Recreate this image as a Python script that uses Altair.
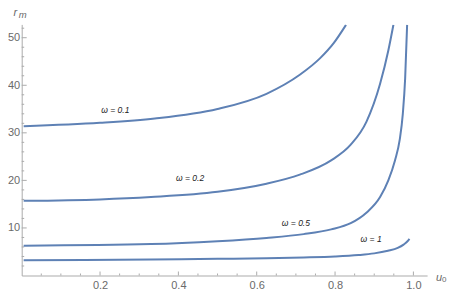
import altair as alt
import pandas as pd

# ---- data ----
u_w01 = [0.005, 0.2, 0.34, 0.5, 0.625, 0.71, 0.762, 0.796, 0.828]
r_w01 = [31.4, 32.1, 33.0, 35.0, 38.2, 42.2, 45.7, 48.8, 52.7]

u_w02 = [0.005, 0.2, 0.33, 0.5, 0.625, 0.71, 0.79, 0.84, 0.88, 0.915, 0.936, 0.949]
r_w02 = [15.7, 16.0, 16.5, 17.6, 19.3, 21.2, 24.2, 27.5, 32.3, 40.3, 47.3, 52.7]

u_w05 = [0.005, 0.33, 0.5, 0.625, 0.72, 0.79, 0.84, 0.88, 0.915, 0.936, 0.953, 0.965, 0.973, 0.979, 0.984]
r_w05 = [6.28, 6.6, 7.2, 7.9, 8.7, 9.7, 11.0, 13.2, 16.5, 20.0, 24.2, 28.5, 34.0, 41.5, 52.7]

u_w1 = [0.005, 0.33, 0.5, 0.625, 0.72, 0.8, 0.86, 0.9, 0.935, 0.96, 0.975, 0.985, 0.99]
r_w1 = [3.2, 3.35, 3.5, 3.65, 3.8, 4.0, 4.3, 4.65, 5.2, 5.8, 6.5, 7.2, 7.7]

label_text = ["ω = 0.1", "ω = 0.2", "ω = 0.5", "ω = 1"]
label_u = [0.239, 0.430, 0.700, 0.892]
label_r = [34.7, 20.5, 11.0, 7.65]

x_major = [0.2, 0.4, 0.6, 0.8, 1.0]
x_minor = [0.05, 0.1, 0.15, 0.25, 0.3, 0.35, 0.45, 0.5, 0.55, 0.65, 0.7, 0.75, 0.85, 0.9, 0.95]
y_major = [10, 20, 30, 40, 50]
y_minor = [2, 4, 6, 8, 12, 14, 16, 18, 22, 24, 26, 28, 32, 34, 36, 38, 42, 44, 46, 48, 52]

rows = []
for name, us, rs in [("0.1", u_w01, r_w01), ("0.2", u_w02, r_w02),
                     ("0.5", u_w05, r_w05), ("1", u_w1, r_w1)]:
    for u, r in zip(us, rs):
        rows.append({"omega": name, "u0": u, "rm": r})
df = pd.DataFrame(rows)

W, H = 405.4, 251.1
AX = "#ababab"
LAB = "#6a6a6a"
FONT = "Liberation Sans"

xs = alt.Scale(domain=[0, 1.035], nice=False, zero=False)
ys = alt.Scale(domain=[0, 52.8], nice=False, zero=False)

lines = alt.Chart(df).mark_line(
    color="#5E81B5", strokeWidth=2, interpolate="monotone", clip=True
).encode(
    x=alt.X("u0:Q", scale=xs, axis=alt.Axis(
        values=x_major, format=".1f", title=None, grid=False, ticks=False, tickSize=0,
        domainColor=AX, labelColor=LAB, labelFontSize=11, labelFont=FONT, labelPadding=3.5)),
    y=alt.Y("rm:Q", scale=ys, axis=alt.Axis(
        values=y_major, format="d", title=None, grid=False, ticks=False, tickSize=0,
        domainColor=AX, labelColor=LAB, labelFontSize=11, labelFont=FONT, labelPadding=2)),
    detail="omega:N",
)

ymaj = alt.Chart(pd.DataFrame({"v": y_major})).mark_rule(color=AX, strokeWidth=1).encode(
    y=alt.Y("v:Q", scale=ys), x=alt.value(0), x2=alt.value(5))
ymin = alt.Chart(pd.DataFrame({"v": y_minor})).mark_rule(color=AX, strokeWidth=1).encode(
    y=alt.Y("v:Q", scale=ys), x=alt.value(0), x2=alt.value(2.5))
xmaj = alt.Chart(pd.DataFrame({"v": x_major})).mark_rule(color=AX, strokeWidth=1).encode(
    x=alt.X("v:Q", scale=xs), y=alt.value(H), y2=alt.value(H - 4))
xmin = alt.Chart(pd.DataFrame({"v": x_minor})).mark_rule(color=AX, strokeWidth=1).encode(
    x=alt.X("v:Q", scale=xs), y=alt.value(H), y2=alt.value(H - 2))

labels = alt.Chart(pd.DataFrame({"t": label_text, "u": label_u, "r": label_r})).mark_text(
    font=FONT, fontSize=8.5, fontStyle="italic", color="#222222", align="center", baseline="middle"
).encode(x=alt.X("u:Q", scale=xs), y=alt.Y("r:Q", scale=ys), text="t:N")

def txt(s, x, y, size, italic=True):
    return alt.Chart(pd.DataFrame({"t": [s]})).mark_text(
        font=FONT, fontSize=size, fontStyle="italic" if italic else "normal",
        color=LAB, align="center", baseline="middle"
    ).encode(x=alt.value(x), y=alt.value(y), text="t:N")

titles = [
    txt("r", -6.4, -11.6, 11),
    txt("m", 0.9, -9.6, 9.5),
    txt("u", 417.3, 253.1, 11),
    txt("0", 422.6, 255.3, 8, italic=False),
]

chart = alt.layer(ymin, ymaj, xmin, xmaj, lines, labels, *titles).properties(
    width=W, height=H,
    autosize=alt.AutoSizeParams(type="none"),
    padding={"left": 13.7, "top": 16.4, "right": 21.9, "bottom": 15},
    background="white",
).configure_view(stroke=None)

chart.save("out.html", embed_options={"renderer": "svg", "actions": False})
